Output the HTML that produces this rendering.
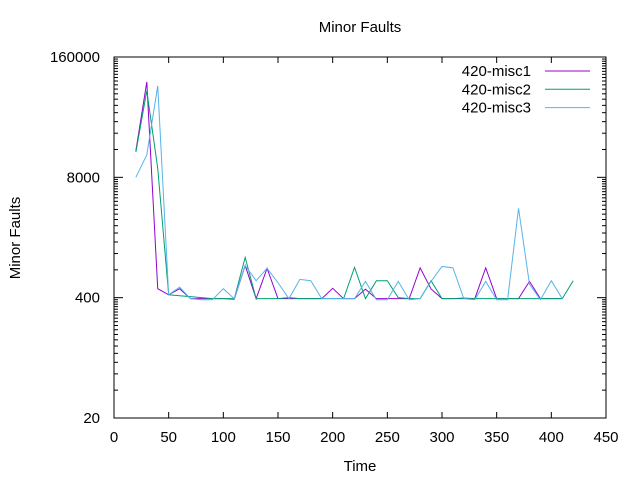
<!DOCTYPE html>
<html><head><meta charset="utf-8"><style>
body{margin:0;background:#fff}
svg text{font-family:"Liberation Sans",sans-serif;font-size:15px;fill:#000}
</style></head><body>
<svg id="chart" width="640" height="480" xmlns="http://www.w3.org/2000/svg">
<text x="360" y="32" text-anchor="middle">Minor Faults</text>
<text x="360" y="471" text-anchor="middle">Time</text>
<text transform="translate(20,238) rotate(-90)" text-anchor="middle">Minor Faults</text>
<g id="axes"></g>
<g id="series"></g>
<g id="legend"></g>
</svg>
<script>
const xs = [20,30,40,50,60,70,80,90,100,110,120,130,140,150,160,170,180,190,200,210,220,230,240,250,260,270,280,290,300,310,320,330,340,350,360,370,380,390,400,410,420];
const misc1 = [15500,86000,500,430,500,390,390,390,390,385,890,390,830,390,390,390,390,390,505,390,390,495,390,390,390,390,840,497,390,390,395,390,840,390,390,390,600,390,390,390];
const misc2 = [15000,69000,10000,430,420,410,400,390,390,390,1090,390,390,390,400,390,390,390,390,390,850,390,610,610,400,390,390,610,390,390,390,390,390,390,390,390,390,390,390,390,610];
const misc3 = [8000,14000,78000,430,520,390,380,380,500,390,890,610,830,580,390,630,610,390,390,390,390,600,380,380,600,380,390,600,870,840,390,380,600,380,380,3700,560,380,610,390];
const yTicks = [20,400,8000,160000];
const xTicks = [0,50,100,150,200,250,300,350,400,450];
const seriesNames = ["420-misc1","420-misc2","420-misc3"];
const colors = ["#9400d3","#009e73","#56b4e9"];

const L=114,R=606,T=57,B=418;
const xS=v=>L+(R-L)*v/450;
const yS=v=>B-(B-T)*Math.log(v/20)/Math.log(8000);
const NS="http://www.w3.org/2000/svg";
function mk(tag,at,parent){const e=document.createElementNS(NS,tag);for(const k in at)e.setAttribute(k,at[k]);parent.appendChild(e);return e;}
const ax=document.getElementById('axes');
const frame=mk('rect',{x:L,y:T,width:R-L,height:B-T,fill:'none',stroke:'#000','stroke-width':1},ax);


xTicks.forEach(t=>{const x=xS(t);
 mk('line',{x1:x,x2:x,y1:B,y2:B-6,stroke:'#000'},ax);
 mk('line',{x1:x,x2:x,y1:T,y2:T+6,stroke:'#000'},ax);
 const tx=mk('text',{x:x,y:B+24,'text-anchor':'middle'},ax);tx.textContent=t;
 
 
});
yTicks.forEach((t,i)=>{const y=yS(t);
 mk('line',{x1:L,x2:L+9,y1:y,y2:y,stroke:'#000'},ax);
 mk('line',{x1:R,x2:R-9,y1:y,y2:y,stroke:'#000'},ax);
 const tx=mk('text',{x:L-14,y:y+5,'text-anchor':'end'},ax);tx.textContent=t;
 
 
 if(i<yTicks.length-1){for(let k=2;k<20;k++){const yy=yS(t*k);
  mk('line',{x1:L,x2:L+4,y1:yy,y2:yy,stroke:'#000'},ax);
  mk('line',{x1:R,x2:R-4,y1:yy,y2:yy,stroke:'#000'},ax);}}
});
const sg=document.getElementById('series');
[misc1,misc2,misc3].forEach((d,i)=>{
 const pts=d.map((v,j)=>xS(xs[j])+','+yS(v)).join(' ');
 const p=mk('polyline',{points:pts,fill:'none',stroke:colors[i],'stroke-width':1},sg);
 
 
});
const lg=document.getElementById('legend');
seriesNames.forEach((n,i)=>{const y=71+18.3*i;
 const t=mk('text',{x:531,y:y+5,'text-anchor':'end'},lg);t.textContent=n;
 
 
 const l=mk('line',{x1:545,x2:590,y1:y,y2:y,stroke:colors[i]},lg);
 
 
});
</script>
</body></html>
